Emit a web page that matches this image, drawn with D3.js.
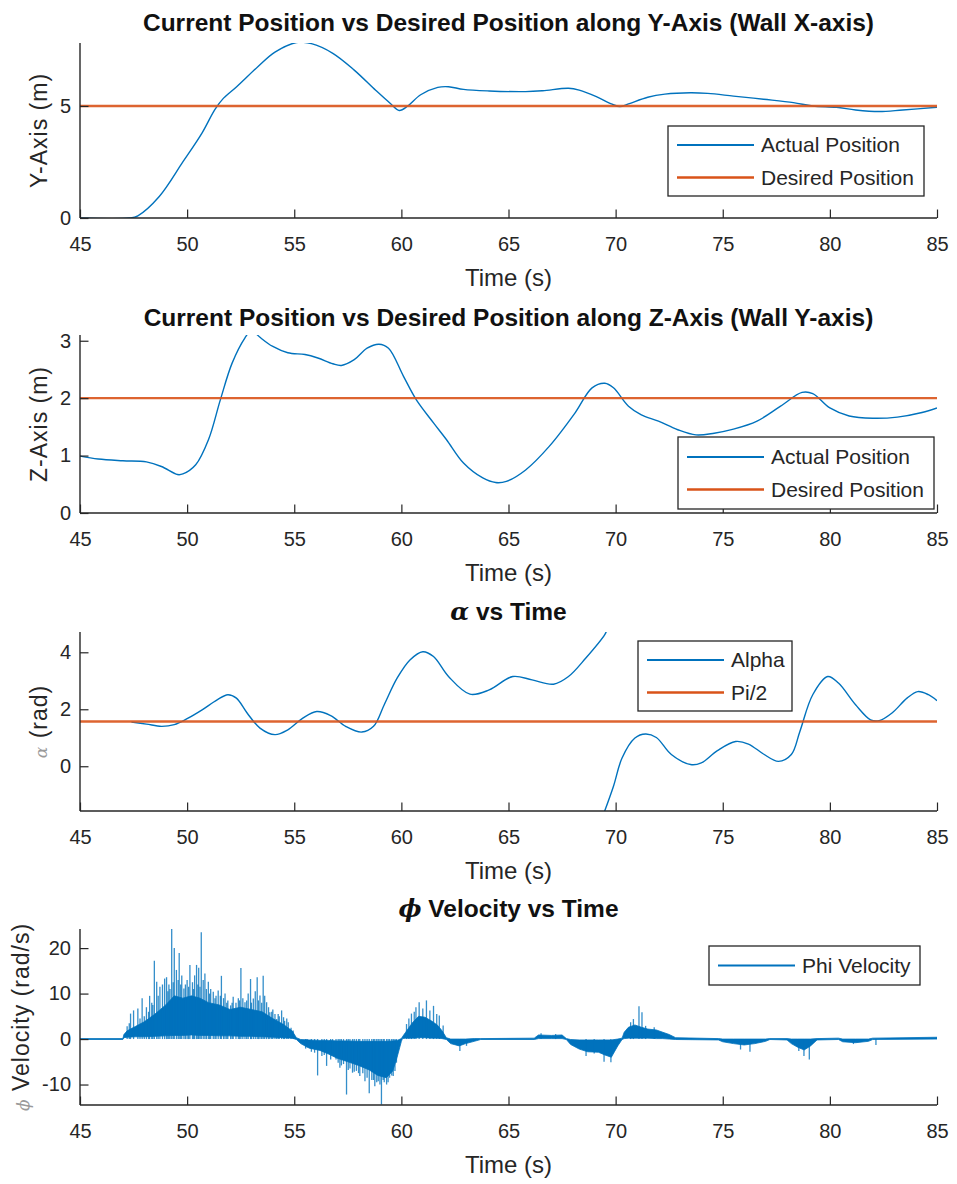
<!DOCTYPE html>
<html>
<head>
<meta charset="utf-8">
<script src="https://cdn.jsdelivr.net/npm/d3@7"></script>
<style>
  body { margin: 0; background: #fff; }
  text { font-family: "Liberation Sans", Arial, Helvetica, sans-serif; }
</style>
</head>
<body>
<svg id="fig" width="957" height="1184"></svg>
<script>
// ---------- data ----------
const timeTicks = [45, 50, 55, 60, 65, 70, 75, 80, 85];

// position along Y-axis (wall X-axis), metres
const yPosTime  = [45, 47.3, 47.7, 48.7, 49.8, 50.7, 51.3, 51.7, 52.3, 53.3, 54.1, 55.1, 55.8, 56.8, 57.8, 58.8, 59.5, 59.9, 60.3, 60.9, 61.7, 62.2, 62.9, 64.1, 65.8, 66.6, 67.8, 68.3, 69.1, 69.8, 70.2, 70.6, 71.5, 72.3, 73.5, 74.3, 75.5, 76.9, 78.3, 79.2, 80.3, 81.2, 82.3, 83.4, 85];
const yPosValue = [0, 0, 0.1, 0.96, 2.5, 3.8, 4.85, 5.35, 5.85, 6.75, 7.4, 7.83, 7.78, 7.35, 6.6, 5.7, 5.1, 4.8, 5.0, 5.5, 5.83, 5.86, 5.74, 5.67, 5.64, 5.68, 5.79, 5.71, 5.42, 5.09, 4.97, 5.09, 5.39, 5.53, 5.59, 5.56, 5.44, 5.3, 5.15, 5.0, 4.94, 4.82, 4.75, 4.82, 4.94];
const yPosDesired = 5;
const yPosTicks = [0, 5];

// position along Z-axis (wall Y-axis), metres
const zPosTime  = [45, 45.85, 47.0, 48.1, 48.8, 49.55, 49.8, 50.4, 51.0, 51.55, 52.1, 52.7, 52.95, 53.15, 53.4, 54.0, 54.7, 55.5, 56.1, 56.8, 57.2, 57.8, 58.4, 58.95, 59.4, 60.1, 60.7, 61.5, 62.1, 62.9, 63.8, 64.4, 64.9, 65.8, 66.9, 68.1, 68.9, 69.5, 69.9, 70.6, 71.2, 72.0, 72.9, 73.75, 74.6, 75.5, 76.6, 77.7, 78.7, 79.2, 80.0, 80.9, 82.0, 83.15, 84.3, 85];
const zPosValue = [0.99, 0.94, 0.91, 0.89, 0.81, 0.67, 0.68, 0.84, 1.28, 1.97, 2.61, 3.05, 3.16, 3.14, 3.06, 2.9, 2.79, 2.76, 2.7, 2.6, 2.57, 2.67, 2.87, 2.94, 2.87, 2.38, 1.97, 1.57, 1.28, 0.87, 0.61, 0.53, 0.55, 0.75, 1.16, 1.74, 2.18, 2.26, 2.18, 1.86, 1.71, 1.6, 1.45, 1.36, 1.39, 1.46, 1.6, 1.86, 2.1, 2.08, 1.83, 1.69, 1.65, 1.67, 1.75, 1.83];
const zPosDesired = 2;
const zPosTicks = [0, 1, 2, 3];

// alpha angle, rad (null marks the wrap from 3*pi/2 back to -pi/2)
const alphaTime  = [47.4, 48.1, 48.8, 49.4, 50.0, 50.7, 51.4, 51.9, 52.3, 52.8, 53.4, 54.1, 54.7, 55.4, 56.05, 56.7, 57.4, 58.15, 58.7, 59.2, 59.8, 60.4, 61.0, 61.5, 62.2, 63.2, 64.1, 65.2, 66.1, 67.1, 67.8, 68.6, 69.5, 69.6, 69.5, 69.45, 69.9, 70.3, 70.9, 71.4, 71.9, 72.6, 73.5, 74.0, 74.75, 75.6, 76.2, 76.9, 77.6, 78.2, 78.6, 79.2, 79.9, 80.4, 81.2, 81.9, 82.3, 82.9, 83.6, 84.1, 84.6, 85];
const alphaValue = [1.55, 1.48, 1.4, 1.46, 1.67, 1.98, 2.33, 2.51, 2.39, 1.87, 1.34, 1.11, 1.28, 1.69, 1.92, 1.78, 1.4, 1.2, 1.4, 2.16, 3.09, 3.73, 4.02, 3.85, 3.15, 2.53, 2.68, 3.15, 3.03, 2.88, 3.15, 3.79, 4.63, 4.8, null, -1.65, -0.7, 0.29, 0.99, 1.13, 1.01, 0.41, 0.06, 0.12, 0.55, 0.87, 0.78, 0.43, 0.17, 0.41, 1.22, 2.51, 3.15, 2.92, 2.16, 1.63, 1.6, 1.87, 2.39, 2.62, 2.51, 2.3];
const alphaRef = Math.PI / 2;
const alphaTicks = [0, 2, 4];

// phi velocity, rad/s: dense oscillation band (low / high edge) ...
const phiBandTime = [45.0, 47.0, 47.05, 47.2, 47.6, 48.0, 48.5, 49.0, 49.4, 49.8, 50.2, 50.6, 51.0, 51.5, 52.0, 52.5, 53.0, 53.5, 54.0, 54.5, 54.9, 55.1, 55.3, 55.7, 56.2, 56.6, 57.0, 57.5, 58.0, 58.5, 58.9, 59.3, 59.6, 59.8, 60.0, 60.05, 60.2, 60.5, 60.8, 61.1, 61.4, 61.7, 61.9, 62.1, 62.3, 62.7, 63.0, 63.4, 63.7, 66.2, 66.4, 67.0, 67.5, 67.7, 67.9, 68.3, 68.7, 69.2, 69.5, 69.8, 70.1, 70.3, 70.4, 70.6, 70.9, 71.2, 71.5, 71.9, 72.2, 72.5, 72.8, 74.8, 75.0, 75.5, 76.0, 76.5, 77.0, 77.2, 78.0, 78.2, 78.5, 78.8, 79.1, 79.4, 80.4, 80.6, 81.2, 81.8, 82.0, 85.0];
const phiBandLow  = [-0.1, -0.1, 0.3, 0.4, 0.5, 0.5, 0.6, 0.7, 0.8, 0.8, 0.9, 0.8, 0.8, 0.7, 0.7, 0.6, 0.6, 0.5, 0.4, 0.3, 0.2, -0.1, -1.0, -2.0, -2.5, -3.3, -4.2, -5.0, -5.8, -6.8, -8.0, -8.5, -7.0, -4.0, -0.5, 0.1, 0.2, 0.2, 0.3, 0.3, 0.2, 0.2, 0.1, -0.1, -1.0, -1.5, -1.0, -0.5, -0.1, -0.1, 0.1, 0.1, 0.1, -0.1, -1.2, -2.2, -2.8, -2.9, -3.5, -4.0, -1.5, -0.1, 0.1, 0.2, 0.2, 0.2, 0.2, 0.1, 0.1, 0.0, -0.1, -0.2, -0.6, -1.0, -1.3, -1.0, -0.5, -0.1, -0.2, -1.0, -1.8, -2.4, -1.5, -0.2, -0.1, -0.6, -0.8, -0.5, -0.1, 0.0];
const phiBandHigh = [0.1, 0.1, 1.0, 1.8, 2.8, 3.8, 5.5, 7.5, 9.5, 9.0, 9.5, 9.0, 8.0, 7.5, 6.5, 7.0, 6.5, 6.0, 4.5, 3.2, 1.8, 0.3, -0.1, -0.2, -0.3, -0.3, -0.4, -0.4, -0.5, -0.5, -0.5, -0.5, -0.4, -0.3, 0.1, 0.5, 1.5, 3.5, 5.0, 4.8, 4.0, 3.0, 1.8, 0.3, 0.0, 0.0, 0.0, 0.1, 0.1, 0.2, 0.9, 0.8, 0.9, 0.1, -0.1, -0.2, -0.2, -0.2, -0.2, -0.2, 0.0, 0.2, 1.5, 2.6, 3.1, 2.6, 2.2, 2.0, 1.5, 1.0, 0.3, 0.1, 0.0, 0.0, 0.0, 0.0, 0.0, 0.1, 0.1, 0.0, 0.0, 0.0, 0.0, 0.1, 0.2, 0.0, 0.0, 0.0, 0.2, 0.4];
// ... and the individual spikes reaching beyond it
const phiSpikeTime  = [47.2, 47.3, 47.36, 47.5, 47.7, 47.8, 47.9, 48.0, 48.1, 48.2, 48.25, 48.35, 48.4, 48.47, 48.58, 48.65, 48.73, 48.85, 48.95, 49.04, 49.1, 49.15, 49.2, 49.28, 49.35, 49.4, 49.5, 49.58, 49.63, 49.7, 49.75, 49.85, 49.92, 50.0, 50.07, 50.13, 50.25, 50.3, 50.35, 50.44, 50.5, 50.54, 50.6, 50.66, 50.75, 50.83, 50.9, 50.99, 51.05, 51.1, 51.22, 51.3, 51.35, 51.45, 51.55, 51.6, 51.7, 51.77, 51.85, 51.9, 52.03, 52.1, 52.15, 52.28, 52.39, 52.45, 52.51, 52.6, 52.7, 52.78, 52.85, 52.96, 53.0, 53.09, 53.18, 53.27, 53.33, 53.4, 53.48, 53.55, 53.62, 53.71, 53.8, 53.86, 53.95, 54.0, 54.1, 54.18, 54.25, 54.3, 54.41, 54.5, 54.55, 54.65, 54.72, 54.85, 54.95,
  55.53, 55.6, 55.8, 55.95, 56.09, 56.29, 56.4, 56.51, 56.7, 56.79, 56.95, 57.05, 57.13, 57.2, 57.3, 57.44, 57.52, 57.6, 57.72, 57.8, 57.9, 58.0, 58.06, 58.2, 58.3, 58.4, 58.5, 58.62, 58.7, 58.76, 58.85, 58.92, 59.0, 59.07, 59.15, 59.2, 59.31, 59.38, 59.45, 59.55, 59.62, 59.7, 59.77,
  60.24, 60.35, 60.47, 60.6, 60.68, 60.83, 61.0, 61.17, 61.33, 61.5, 61.65, 61.77, 61.95, 62.73, 63.04, 66.52, 67.2,
  68.62, 69.0, 69.46, 69.78, 70.7, 70.83, 71.09, 71.23, 71.4, 71.8, 75.83, 76.27, 78.55, 78.79, 79.04, 81.1, 82.15];
const phiSpikeValue = [2.8, 3.5, 5.6, 6.3, 6.7, 4.5, 9.0, 5.0, 7.0, 6.0, 9.5, 8.0, 7.5, 17.2, 12.6, 9.5, 11.5, 12.0, 13.3, 13.6, 10.5, 12.0, 11.0, 24.6, 12.5, 20.0, 15.2, 13.0, 18.9, 12.0, 14.0, 11.1, 12.0, 13.0, 11.5, 16.3, 12.5, 11.0, 14.0, 16.3, 12.0, 15.7, 11.5, 23.5, 13.0, 14.4, 11.0, 12.6, 10.0, 11.0, 10.4, 9.0, 9.5, 10.7, 9.5, 13.9, 9.0, 10.0, 8.0, 8.5, 7.4, 8.0, 9.3, 8.0, 9.0, 8.5, 15.6, 9.0, 8.1, 8.5, 10.0, 13.2, 8.0, 8.9, 10.5, 13.6, 8.5, 9.6, 8.0, 13.9, 9.5, 8.1, 7.0, 5.9, 6.0, 6.5, 5.5, 4.4, 5.5, 5.0, 6.3, 4.8, 4.0, 4.5, 3.7, 2.5, 1.9,
  -2.1, -1.8, -2.8, -3.0, -8.0, -3.7, -3.5, -5.9, -4.5, -3.0, -4.5, -5.2, -6.3, -5.8, -5.5, -12.2, -6.8, -6.5, -7.4, -7.2, -7.0, -7.5, -8.1, -7.5, -9.3, -8.5, -11.9, -9.0, -9.0, -10.4, -9.5, -9.3, -10.0, -14.4, -9.0, -9.5, -10.0, -9.5, -8.5, -8.0, -8.1, -7.0, -5.2,
  3.3, 4.5, 5.6, 6.0, 7.0, 8.1, 6.7, 8.5, 6.3, 7.3, 5.5, 5.2, 3.0, -2.6, -1.5, 1.3, 1.1,
  -3.7, -3.2, -5.0, -5.1, 3.7, 4.4, 7.2, 5.9, 2.9, 2.6, -2.3, -2.8, -2.6, -3.7, -4.5, -1.1, -1.3];
const phiTicks = [-10, 0, 10, 20];

// ---------- drawing ----------
const BLUE = "#0072BD", ORANGE = "#D95319", INK = "#262626";
const svg = d3.select("#fig");
const X_LEFT = 80, X_RIGHT = 937;
const zip = (a, b) => a.map((t, i) => [t, b[i]]);

function panel(o) {
  const g = svg.append("g");
  const x = d3.scaleLinear().domain([45, 85]).range([X_LEFT, X_RIGHT]);
  const y = d3.scaleLinear().domain(o.domain).range([o.bottom, o.top]);

  const clipId = "clip" + o.id;
  svg.append("clipPath").attr("id", clipId)
    .append("rect").attr("x", X_LEFT).attr("y", o.top)
    .attr("width", X_RIGHT - X_LEFT).attr("height", o.bottom - o.top);
  const plot = g.append("g").attr("clip-path", `url(#${clipId})`);

  o.draw(plot, x, y);

  // axes (ticks pointing inwards, no box)
  const ax = g.append("g").attr("transform", `translate(0,${o.bottom})`)
    .call(d3.axisBottom(x).tickValues(timeTicks).tickFormat(d => String(d))
      .tickSizeInner(-8.5).tickSizeOuter(0).tickPadding(19));
  const ay = g.append("g").attr("transform", `translate(${X_LEFT},0)`)
    .call(d3.axisLeft(y).tickValues(o.ticks).tickFormat(d => String(d))
      .tickSizeInner(-8.5).tickSizeOuter(0).tickPadding(9));
  [ax, ay].forEach(a => {
    a.select(".domain").attr("stroke", INK).attr("stroke-width", 1.4);
    a.selectAll(".tick line").attr("stroke", INK).attr("stroke-width", 1.2);
    a.selectAll(".tick text").attr("fill", INK).style("font-size", "20px");
  });
  // keep the y axis line spanning the full plot height
  ay.select(".domain").attr("d", `M0,${o.bottom}V${o.top}`);
  ax.select(".domain").attr("d", `M${X_LEFT},0H${X_RIGHT}`);

  // title
  const title = g.append("text").attr("x", (X_LEFT + X_RIGHT) / 2).attr("y", o.titleY)
    .attr("text-anchor", "middle").attr("fill", "#111")
    .style("font-size", "24.5px").style("font-weight", "bold");
  if (o.titleGreek) {
    title.append("tspan").style("font-style", "italic").style("font-family", "'DejaVu Serif', serif").text(o.titleGreek);
  }
  title.append("tspan").text(o.title);

  // axis labels
  g.append("text").attr("x", (X_LEFT + X_RIGHT) / 2).attr("y", o.bottom + 68)
    .attr("text-anchor", "middle").attr("fill", INK).style("font-size", "24px")
    .text("Time (s)");
  const yl = g.append("text")
    .attr("transform", `translate(${o.ylabelX},${(o.top + o.bottom) / 2}) rotate(-90)`)
    .attr("text-anchor", "middle").attr("fill", INK).style("font-size", "23px")
    .style("letter-spacing", "1px");
  if (o.ylabelGreek) {
    yl.append("tspan").attr("fill", "#9a9a9a").style("font-style", "italic")
      .style("font-family", "'DejaVu Serif', serif").style("font-size", "17px").text(o.ylabelGreek);
  }
  yl.append("tspan").text(o.ylabel);

  // legend
  const L = o.legend;
  const lg = g.append("g");
  lg.append("rect").attr("x", L.x).attr("y", L.y).attr("width", L.w).attr("height", L.h)
    .attr("fill", "#fff").attr("stroke", INK).attr("stroke-width", 1.3);
  L.items.forEach((it, i) => {
    const cy = L.y + L.first + i * 32.5;
    lg.append("line").attr("x1", L.x + 9).attr("x2", L.x + 86).attr("y1", cy).attr("y2", cy)
      .attr("stroke", it.color).attr("stroke-width", it.color === ORANGE ? 2.4 : 2);
    lg.append("text").attr("x", L.x + 93).attr("y", cy).attr("dy", "0.35em")
      .attr("fill", INK).style("font-size", "21px").text(it.label);
  });
}

const lineGen = (x, y) => d3.line().defined(d => d[1] != null)
  .x(d => x(d[0])).y(d => y(d[1])).curve(d3.curveCatmullRom.alpha(0.5));
const refLine = (plot, x, y, v) => plot.append("line")
  .attr("x1", x(45)).attr("x2", x(85)).attr("y1", y(v)).attr("y2", y(v))
  .attr("stroke", ORANGE).attr("stroke-width", 2.4).attr("stroke-opacity", 0.9);

panel({
  id: 1, top: 43, bottom: 218, domain: [0, 7.81], ticks: yPosTicks,
  title: "Current Position vs Desired Position along Y-Axis (Wall X-axis)", titleY: 31,
  ylabel: "Y-Axis (m)", ylabelX: 47,
  legend: { x: 668, y: 126, w: 256, h: 70, first: 19,
    items: [{ label: "Actual Position", color: BLUE }, { label: "Desired Position", color: ORANGE }] },
  draw(plot, x, y) {
    plot.append("path").datum(zip(yPosTime, yPosValue)).attr("fill", "none")
      .attr("stroke", BLUE).attr("stroke-width", 1.4).attr("d", lineGen(x, y));
    refLine(plot, x, y, yPosDesired);
  }
});

panel({
  id: 2, top: 335, bottom: 513, domain: [0, 3.1], ticks: zPosTicks,
  title: "Current Position vs Desired Position along Z-Axis (Wall Y-axis)", titleY: 326,
  ylabel: "Z-Axis (m)", ylabelX: 47,
  legend: { x: 678, y: 437, w: 256, h: 72, first: 20,
    items: [{ label: "Actual Position", color: BLUE }, { label: "Desired Position", color: ORANGE }] },
  draw(plot, x, y) {
    plot.append("path").datum(zip(zPosTime, zPosValue)).attr("fill", "none")
      .attr("stroke", BLUE).attr("stroke-width", 1.4).attr("d", lineGen(x, y));
    refLine(plot, x, y, zPosDesired);
  }
});

panel({
  id: 3, top: 632, bottom: 811, domain: [-Math.PI / 2, 3 * Math.PI / 2], ticks: alphaTicks,
  title: " vs Time", titleGreek: "α", titleY: 620,
  ylabel: " (rad)", ylabelGreek: "α", ylabelX: 47,
  legend: { x: 638, y: 641, w: 154, h: 70, first: 19,
    items: [{ label: "Alpha", color: BLUE }, { label: "Pi/2", color: ORANGE }] },
  draw(plot, x, y) {
    plot.append("path").datum(zip(alphaTime, alphaValue)).attr("fill", "none")
      .attr("stroke", BLUE).attr("stroke-width", 1.4).attr("d", lineGen(x, y));
    refLine(plot, x, y, alphaRef);
  }
});

panel({
  id: 4, top: 929, bottom: 1105, domain: [-14.5, 24.2], ticks: phiTicks,
  title: " Velocity vs Time", titleGreek: "ϕ", titleY: 917,
  ylabel: " Velocity (rad/s)", ylabelGreek: "ϕ", ylabelX: 29,
  legend: { x: 709, y: 946, w: 211, h: 39, first: 19.5,
    items: [{ label: "Phi Velocity", color: BLUE }] },
  draw(plot, x, y) {
    const band = phiBandTime.map((t, i) => [t, phiBandLow[i], phiBandHigh[i]]);
    plot.append("path").datum(band).attr("fill", BLUE).attr("stroke", BLUE).attr("stroke-width", 0.8)
      .attr("d", d3.area().x(d => x(d[0])).y0(d => y(d[1])).y1(d => y(d[2])));
    plot.selectAll("line.spike").data(zip(phiSpikeTime, phiSpikeValue)).join("line")
      .attr("class", "spike")
      .attr("x1", d => x(d[0])).attr("x2", d => x(d[0]))
      .attr("y1", y(0)).attr("y2", d => y(d[1]))
      .attr("stroke", BLUE).attr("stroke-width", 1.3).attr("stroke-opacity", 0.8);
  }
});
</script>
</body>
</html>
